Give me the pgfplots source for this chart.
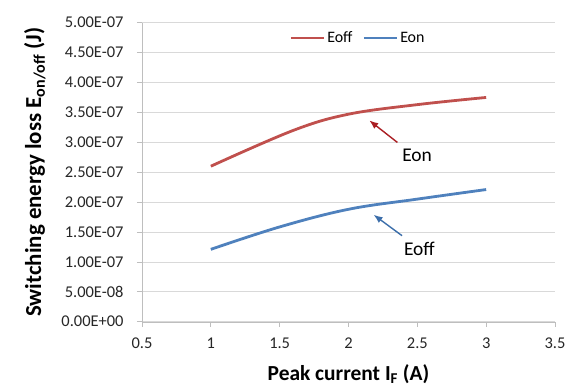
\documentclass[border=0pt]{standalone}
\usepackage{pgfplots}
\pgfplotsset{compat=1.18}
\usetikzlibrary{arrows.meta}
\usepackage{fontspec}
\setmainfont{Carlito}
\definecolor{exred}{RGB}{192,80,77}
\definecolor{exblue}{RGB}{79,129,189}
\definecolor{arrred}{RGB}{170,30,35}
\definecolor{arrblue}{RGB}{60,110,170}
\definecolor{gridgray}{RGB}{217,217,217}
\definecolor{axgray}{RGB}{190,190,190}
\begin{document}
\begin{tikzpicture}
\begin{axis}[
  name=ax,
  scale only axis,
  width=413bp, height=299bp,
  xmin=0.5, xmax=3.5, ymin=0, ymax=5e-7,
  xtick={0.5,1,1.5,2,2.5,3,3.5},
  xticklabels={0.5,1,1.5,2,2.5,3,3.5},
  ytick={0,5e-8,1e-7,1.5e-7,2e-7,2.5e-7,3e-7,3.5e-7,4e-7,4.5e-7,5e-7},
  yticklabels={0.00E+00,5.00E-08,1.00E-07,1.50E-07,2.00E-07,2.50E-07,3.00E-07,3.50E-07,4.00E-07,4.50E-07,5.00E-07},
  scaled y ticks=false,
  axis x line*=bottom, axis y line*=left,
  x axis line style={draw=axgray,-}, y axis line style={draw=axgray,-},
  tick style={draw=axgray, line width=0.8bp},
  tick align=outside, major tick length=5bp,
  ymajorgrids, grid style={draw=gridgray, line width=0.8bp},
  ticklabel style={font=\fontsize{16.5}{18}\selectfont, text=black!85},
  xticklabel style={yshift=-8bp},
  yticklabel style={xshift=-10bp},
  xlabel={\bfseries Peak current I\textsubscript{F} (A)},
  ylabel={\bfseries Switching energy loss E\textsubscript{on/off} (J)},
  xlabel style={font=\fontsize{21.5}{23}\selectfont, yshift=-9bp},
  ylabel style={font=\fontsize{23}{25}\selectfont, yshift=9bp},
  legend style={at={(0.523,0.949)}, anchor=center, draw=none, fill=none,
    font=\fontsize{16}{18}\selectfont, legend columns=2,
    /tikz/every even column/.append style={column sep=8bp}},
  legend image code/.code={\draw[#1] (0bp,0bp) -- (33bp,0bp);},
]
\addplot[exred, line width=2.8bp, smooth, tension=0.6] coordinates {
  (1,2.60e-7) (1.6,3.20e-7) (2.0,3.47e-7) (2.5,3.63e-7) (3,3.75e-7)};
\addlegendentry{Eoff}
\addplot[exblue, line width=2.8bp, smooth, tension=0.6] coordinates {
  (1,1.21e-7) (1.5,1.585e-7) (2.0,1.88e-7) (2.5,2.05e-7) (3,2.21e-7)};
\addlegendentry{Eon}
\draw[-{Latex[length=9bp,width=7bp]}, arrred, line width=1.4bp] (axis cs:2.355,2.998e-7) -- (axis cs:2.151,3.366e-7);
\node[font=\fontsize{19.5}{21}\selectfont] at (axis cs:2.498,2.79e-7) {Eon};
\draw[-{Latex[length=9bp,width=7bp]}, arrblue, line width=1.4bp] (axis cs:2.389,1.438e-7) -- (axis cs:2.182,1.789e-7);
\node[font=\fontsize{19.5}{21}\selectfont] at (axis cs:2.515,1.216e-7) {Eoff};
\end{axis}
\pgfresetboundingbox
\path ([shift={(-142bp,-65bp)}]ax.south west) rectangle ([shift={(19bp,22.7bp)}]ax.north east);
\end{tikzpicture}
\end{document}
